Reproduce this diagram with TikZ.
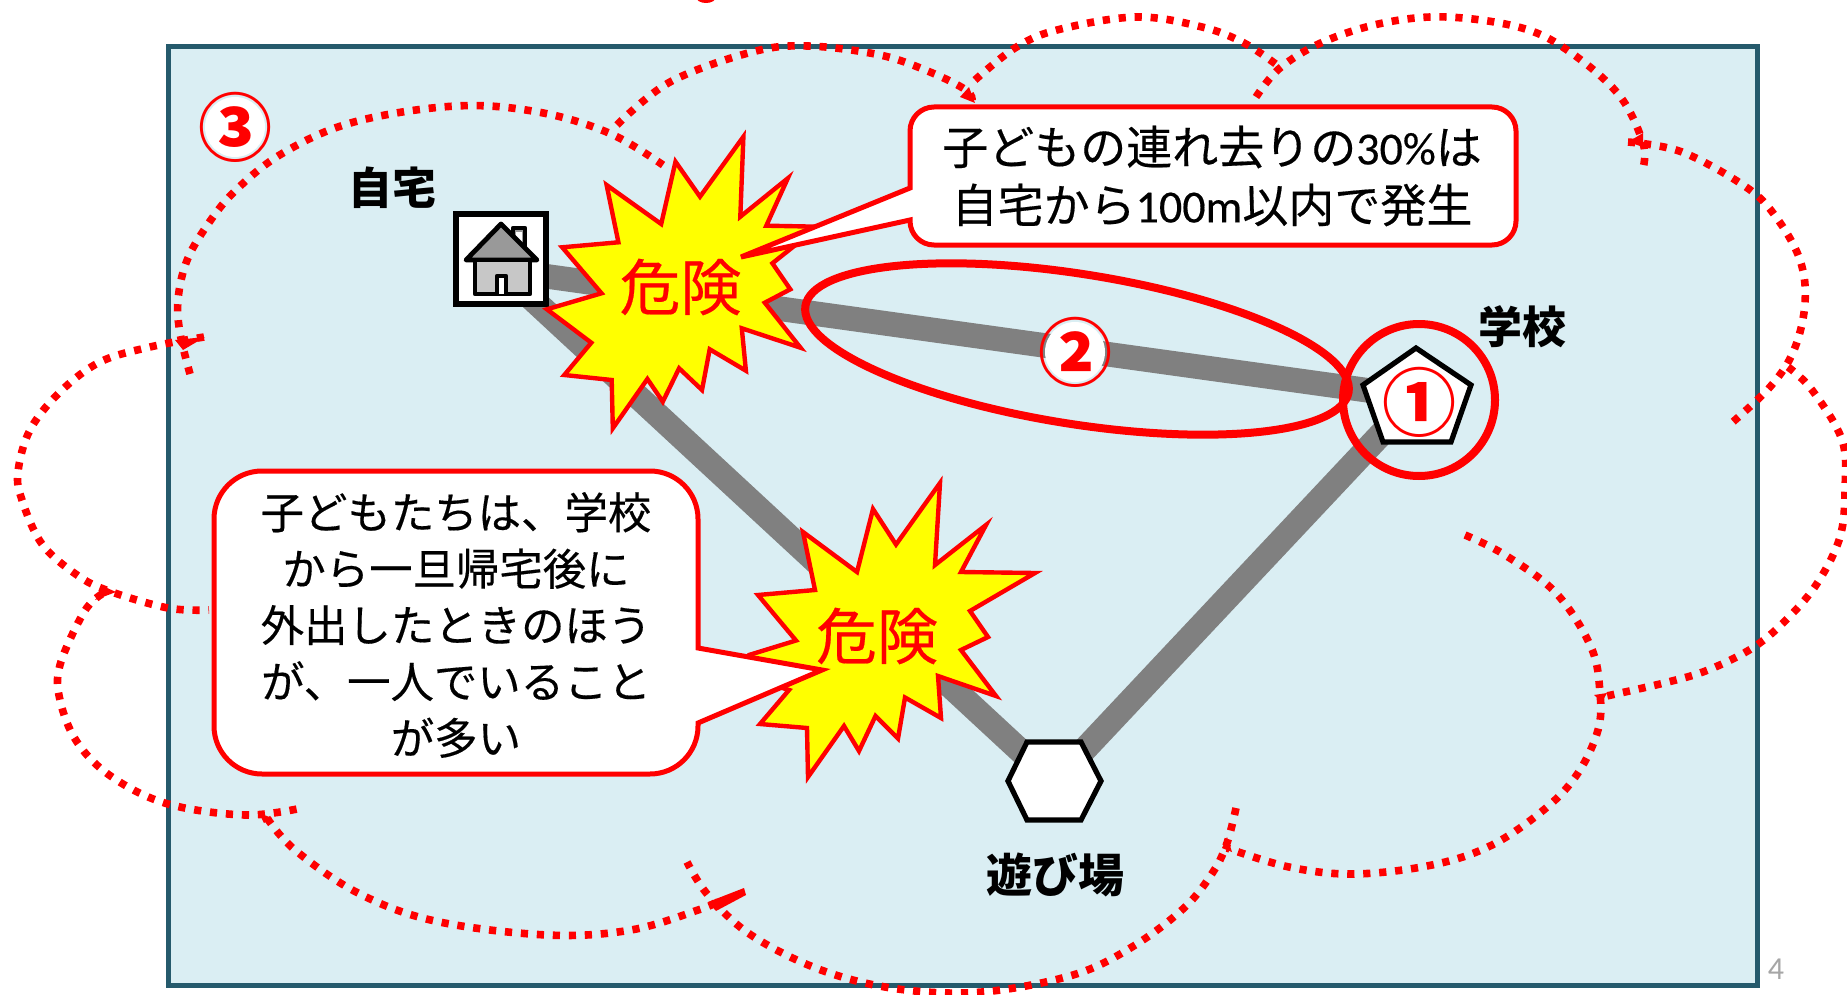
\documentclass[tikz,border=0pt]{standalone}
\usepackage{fontspec}
\setmainfont{Noto Sans CJK JP}
\newfontfamily\latinf{Carlito}
\newfontfamily\heavyjp[FakeBold=0.35]{Noto Sans CJK JP}
\newfontfamily\heavylatin[FakeBold=0.35]{Carlito}
\definecolor{framecol}{HTML}{255A6C}
\definecolor{framefill}{HTML}{DAEEF3}
\definecolor{roadcol}{HTML}{808080}
\definecolor{numgray}{HTML}{A6A6A6}
\definecolor{pured}{HTML}{FF0000}
\definecolor{pureyellow}{HTML}{FFFF00}
\tikzset{
  cloudarc/.style={draw=pured,line width=3.8pt,dash pattern=on 3.6pt off 4.4pt,line cap=butt},
  tipmark/.style={fill=pured,draw=none},
  road/.style={draw=roadcol,line width=12.3pt},
  placeshape/.style={draw=black,fill=white,line width=2.6pt,line join=miter},
  burst/.style={draw=pured,fill=pureyellow,line width=2.2pt,line join=miter,miter limit=10},
  calloutbox/.style={draw=pured,fill=white,line width=2.5pt,line join=miter},
  ringmark/.style={draw=pured,line width=4pt},
  dangertext/.style={text=pured,font=\heavyjp\fontsize{30.5pt}{32pt}\selectfont,inner sep=0pt},
  calltext/.style={font=\heavyjp\fontsize{23pt}{29pt}\selectfont,align=center,inner sep=0pt},
  calltextb/.style={font=\heavyjp\fontsize{21.7pt}{28.2pt}\selectfont,align=center,inner sep=0pt},
  placelabel/.style={font=\bfseries\fontsize{22pt}{24pt}\selectfont,inner sep=0pt},
  circnum/.style={circle,fill=white,inner sep=0pt,minimum size=30pt,text=pured,font=\bfseries\fontsize{37pt}{39pt}\selectfont},
}
\newcommand{\circglyph}[1]{\smash{\makebox[0pt]{\raisebox{-.385em}{#1}}}}
\begin{document}
\begin{tikzpicture}[x=0.5pt,y=-0.5pt]
\useasboundingbox (0,0) rectangle (1847,995);
\clip (0,0) rectangle (1847,995);
\fill[white] (0,0) rectangle (1847,995);
% small mark at the top edge
\fill[pured] (706,-3) ellipse (10 and 6);
% frame
\draw[draw=framecol,fill=framefill,line width=2.5pt] (168,47) rectangle (1757,985);
% cloud arcs
\draw[cloudarc] plot[smooth,tension=0.6] coordinates {(190,374) (180,333) (178,300) (186,263) (204,230) (234,192) (283,153) (354,122) (456,106) (538,112) (609,133) (663,165)};
\draw[cloudarc] plot[smooth,tension=0.6] coordinates {(617,125) (670,82) (752,52) (808,46) (880,55) (930,72) (966,90) (972,100)};
\draw[cloudarc] plot[smooth,tension=0.6] coordinates {(975,80) (1015,48) (1057,30) (1136,17) (1202,27) (1244,43) (1277,65)};
\draw[cloudarc] plot[smooth,tension=0.6] coordinates {(1256,97) (1280,68) (1323,42) (1383,23) (1447,17) (1522,28) (1570,52) (1619,95) (1643,143) (1643,168)};
\draw[cloudarc] plot[smooth,tension=0.6] coordinates {(1628,142) (1682,152) (1746,187) (1776,217) (1800,260) (1805,303) (1794,350) (1770,387) (1727,427)};
\draw[cloudarc] plot[smooth,tension=0.6] coordinates {(1788,367) (1812,390) (1842,440) (1845,490) (1840,537) (1818,582) (1789,617) (1754,647) (1708,670) (1664,683) (1602,697)};
\draw[cloudarc] plot[smooth,tension=0.6] coordinates {(1465,535) (1505,555) (1556,593) (1591,647) (1600,693) (1598,730) (1578,773) (1546,808) (1492,845) (1432,865) (1354,874) (1289,867) (1227,848)};
\draw[cloudarc] plot[smooth,tension=0.6] coordinates {(1236,808) (1227,843) (1213,872) (1184,908) (1132,947) (1073,975) (982,992) (898,989) (821,970) (751,935) (708,895) (687,862)};
\draw[cloudarc] plot[smooth,tension=0.6] coordinates {(204,337) (150,347) (100,362) (60,392) (30,430) (18,472) (22,500) (42,544) (77,575) (109,591) (168,608) (209,610)};
\draw[cloudarc] plot[smooth,tension=0.6] coordinates {(102,594) (84,612) (60,665) (60,700) (77,742) (112,777) (168,804) (245,815) (302,808)};
\draw[cloudarc] plot[smooth,tension=0.6] coordinates {(267,818) (295,850) (358,893) (435,921) (547,935) (631,930) (701,909) (716,902)};
% arc end marks
\fill[tipmark] (960,97) -- (975,103) -- (969,87) -- cycle;
\fill[tipmark] (1628,142) -- (1643,133) -- (1643,147) -- cycle;
\fill[tipmark] (205,337) -- (175,340) -- (183,350) -- cycle;
\fill[tipmark] (1594,695) -- (1607,693) -- (1602,702) -- cycle;
\fill[tipmark] (1227,837) -- (1222,848) -- (1232,852) -- cycle;
\fill[tipmark] (744,888) -- (746,895) -- (716,911) -- (708,902) -- cycle;
\fill[tipmark] (105,587) -- (95,600) -- (116,592) -- cycle;
\fill[tipmark] (259,813) -- (272,818) -- (264,823) -- cycle;
% named places
\coordinate (homeroad) at (501,270);
\coordinate (school) at (1416,397);
\coordinate (play) at (1054,782);
\draw[road] (homeroad) -- (school);
\draw[road] (homeroad) -- (play);
\draw[road] (school) -- (play);
% ring 2 and ring 1
\draw[ringmark,rotate around={-9:(1077,349)}] (1077,349) ellipse (275 and 75);
\draw[ringmark] (1419,400) circle (76);
% school and playground shapes
\draw[placeshape] (1416,348) -- (1471,385) -- (1451,442) -- (1383,442) -- (1363,385) -- cycle;
\draw[placeshape] (1008,781) -- (1027,742) -- (1081,742) -- (1101,781) -- (1081,820) -- (1027,820) -- cycle;
% home
\node[draw=black,fill=white,line width=2.6pt,minimum size=45pt,inner sep=0pt] (home) at (501,259) {};
\draw[black,fill=black!40,line width=2.2pt,line join=round] (513,228) rectangle (525,250);
\fill[white] (516,232) rectangle (522,250);
\draw[black,fill=black!40,line width=2.4pt,line join=round] (501,224) -- (537,260) -- (466,260) -- cycle;
\draw[black,fill=black!22,line width=2.4pt,line join=round] (475,260) rectangle (530,294);
\draw[black,fill=white,line width=2.2pt,line join=round] (497,294) -- (497,276) -- (506,276) -- (506,294);
% bursts
\draw[burst] (675.5,161.7) -- (700,196.7) -- (743.4,136.7) -- (740.3,216.7) -- (787.8,178.3) -- (766.3,225.7) -- (818.4,226.7) -- (772.4,263.3) -- (790.3,289.3) -- (764.8,302.7) -- (800.5,347.7) -- (741.8,328.3) -- (745.9,370.7) -- (709.7,349.3) -- (702,390) -- (679.1,368.3) -- (662.8,401.7) -- (647.4,379) -- (612.8,428.3) -- (611.7,380) -- (564.3,375) -- (591.3,342.7) -- (546.9,309.3) -- (601.5,293.3) -- (562.2,247.3) -- (618.4,242.3) -- (606.6,185) -- (661.2,224) -- cycle;
\draw[burst] (940,483) -- (935,565) -- (986,525) -- (961,572) -- (1035,573) -- (970,611) -- (988,637) -- (961,650) -- (996,696) -- (938,676) -- (941,718) -- (905,697.5) -- (898,738.5) -- (875.5,716) -- (859,751) -- (844,726) -- (808,777) -- (807,728) -- (760,724) -- (789,690) -- (730,672) -- (749,655) -- (796,640.5) -- (758,595) -- (815,590) -- (803,532) -- (857,572) -- (873,509) -- (896,544.5) -- cycle;
\node[dangertext] (dangerone) at (680.5,287) {危険};
\node[dangertext] (dangertwo) at (877,636) {危険};
% callouts
\draw[calloutbox] (910,188) [rounded corners=12pt] -- (910,107) -- (1516,107) -- (1516,245) -- (910,245) [sharp corners] -- (910,220) -- (741,257) -- cycle;
\draw[calloutbox] (698,648) [rounded corners=24pt] -- (698,471) -- (214,471) -- (214,774) -- (698,774) [sharp corners] -- (698,723) -- (822,670) -- cycle;
\node[calltext] (callone) at (1212,176) {子どもの連れ去りの{\heavylatin 30\%}は\\自宅から{\heavylatin 100m}以内で発生};
\node[calltextb] (calltwo) at (456,625) {子どもたちは、学校\\から一旦帰宅後に\\外出したときのほう\\が、一人でいること\\が多い};
% labels
\node[placelabel] (lhome) at (392,188) {自宅};
\node[placelabel] (lschool) at (1522,327) {学校};
\node[placelabel,font=\bfseries\fontsize{23pt}{24pt}\selectfont] (lplay) at (1055,875) {遊び場};
% circled numbers
\node[circnum] (numone) at (1419,402) {\circglyph{①}};
\node[circnum] (numtwo) at (1075,352) {\circglyph{②}};
\node[circnum] (numthree) at (235,127) {\circglyph{③}};
% page number
\node[text=numgray,font=\latinf\fontsize{16pt}{18pt}\selectfont,inner sep=0pt] (pagenum) at (1776,969) {4};
\end{tikzpicture}
\end{document}
